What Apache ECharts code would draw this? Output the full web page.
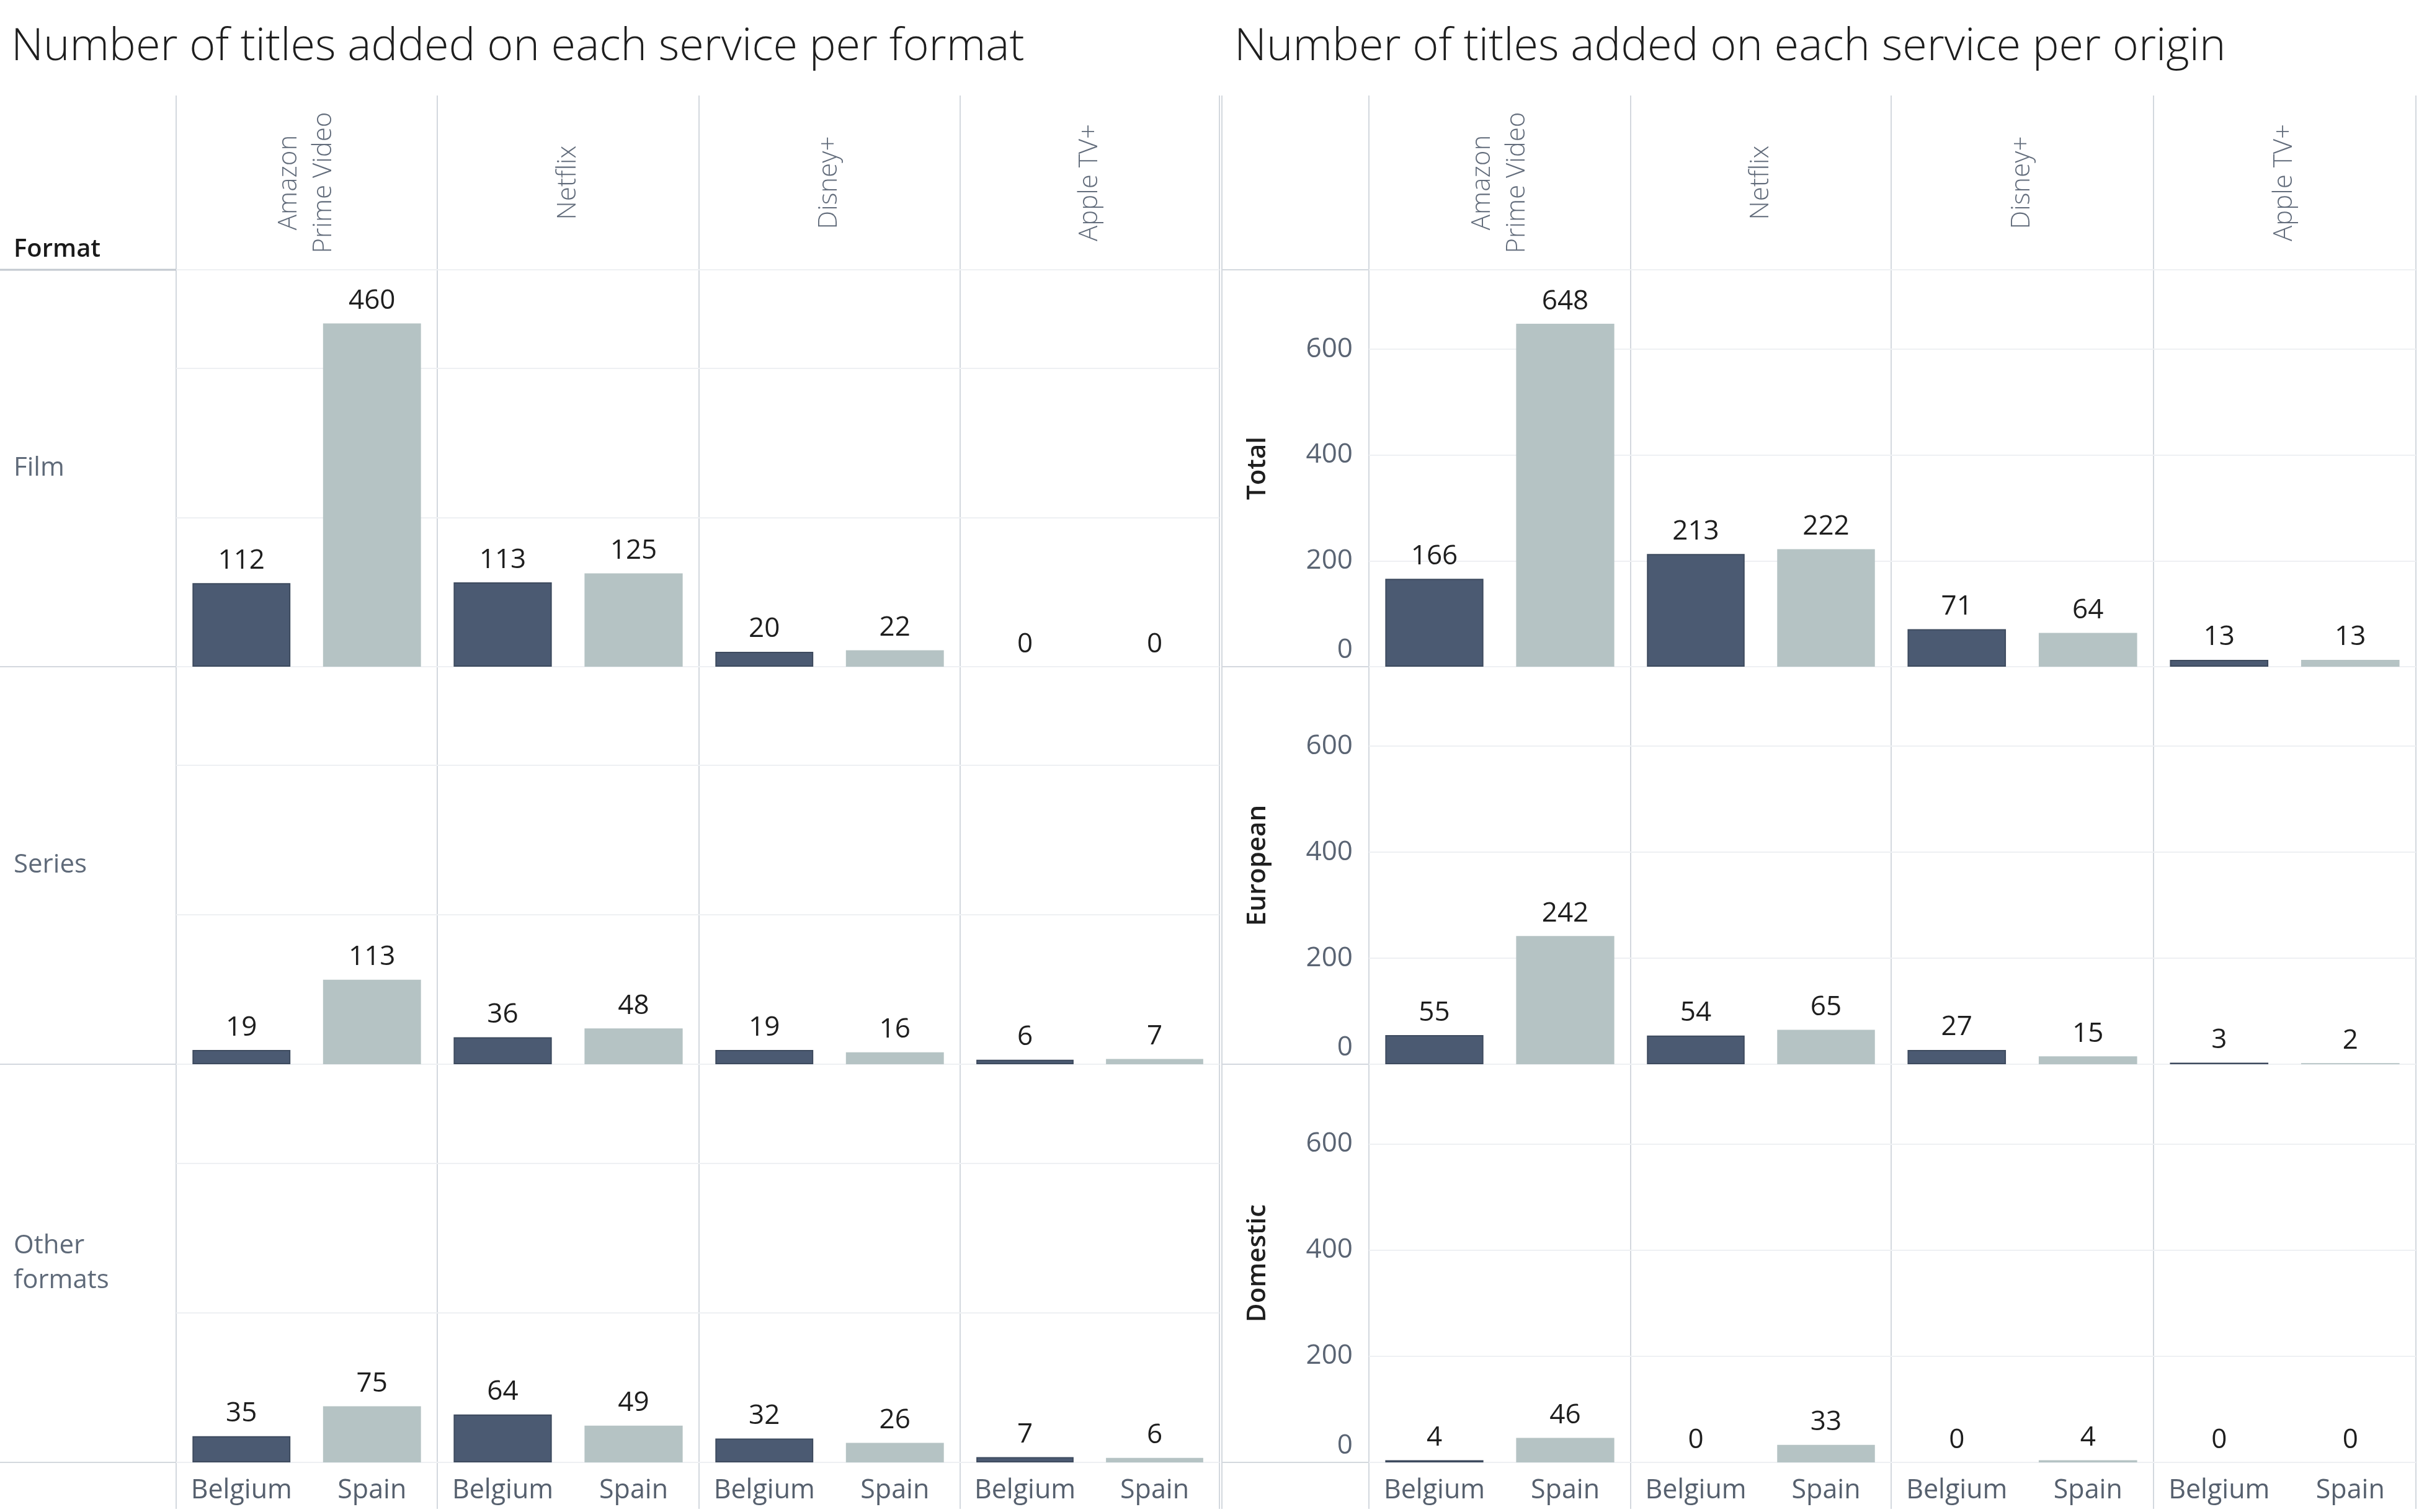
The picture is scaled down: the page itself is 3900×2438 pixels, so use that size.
<!DOCTYPE html>
<html><head><meta charset="utf-8">
<script src="https://cdn.jsdelivr.net/npm/echarts@6/dist/echarts.min.js"></script>
<style>html,body{margin:0;padding:0;background:#fff}#c{width:3900px;height:2438px}</style>
</head><body><div id="c"></div>
<script>
// ---------- DATA ----------
const countries = ['Belgium', 'Spain'];
const services = ['Amazon\nPrime Video', 'Netflix', 'Disney+', 'Apple TV+'];
const formatRows = ['Film', 'Series', 'Other\nformats'];
const originRows = ['Total', 'European', 'Domestic'];
// values per service (Amazon, Netflix, Disney+, Apple TV+)
const filmBelgium     = [112, 113, 20, 0];
const filmSpain       = [460, 125, 22, 0];
const seriesBelgium   = [19, 36, 19, 6];
const seriesSpain     = [113, 48, 16, 7];
const otherBelgium    = [35, 64, 32, 7];
const otherSpain      = [75, 49, 26, 6];
const totalBelgium    = [166, 213, 71, 13];
const totalSpain      = [648, 222, 64, 13];
const europeanBelgium = [55, 54, 27, 3];
const europeanSpain   = [242, 65, 15, 2];
const domesticBelgium = [4, 0, 0, 0];
const domesticSpain   = [46, 33, 4, 0];
const yTicksStep = 200;
const formatAxisMax = 532;
const originAxisMax = 750;

// ---------- LAYOUT ----------
const FONT = "'Open Sans', 'Noto Sans', sans-serif";
const colsL = [284, 705, 1127, 1548, 1966];
const colsR = [2207, 2629, 3049, 3472, 3895];
const rowsY = [435, 1075, 1716, 2358];
const headTop = 154, footBottom = 2433;
const DARK = '#4b5a72', LIGHT = '#b5c3c4', LINE = '#d3d8de', GRIDC = '#eef0f3';

const panels = [
  {cols: colsL, rows: formatRows, data: [[filmBelgium, filmSpain], [seriesBelgium, seriesSpain], [otherBelgium, otherSpain]], max: formatAxisMax, yLabels: false},
  {cols: colsR, rows: originRows, data: [[totalBelgium, totalSpain], [europeanBelgium, europeanSpain], [domesticBelgium, domesticSpain]], max: originAxisMax, yLabels: true}
];

const grids = [], xAxes = [], yAxes = [], series = [], graphic = [];
let idx = 0;
panels.forEach((p, pi) => {
  for (let r = 0; r < 3; r++) {
    for (let c = 0; c < 4; c++) {
      const x0 = p.cols[c], x1 = p.cols[c + 1], y0 = rowsY[r], y1 = rowsY[r + 1];
      grids.push({left: x0, top: y0, width: x1 - x0, height: y1 - y0, show: true,
        borderColor: LINE, borderWidth: 2, backgroundColor: 'transparent', containLabel: false});
      xAxes.push({type: 'category', gridIndex: idx, data: countries,
        axisLine: {show: false}, axisTick: {show: false},
        axisLabel: {show: r === 2, interval: 0, hideOverlap: false, fontSize: 43, color: '#56606e', fontFamily: FONT, margin: 24}});
      const first = c === 0;
      const yAx = {type: 'value', gridIndex: idx, min: 0, max: p.max, interval: yTicksStep,
        axisLine: {show: false}, axisTick: {show: false},
        splitLine: {show: true, lineStyle: {color: GRIDC, width: 2}},
        axisLabel: {show: p.yLabels && first, showMaxLabel: false, fontSize: 44, color: '#5a6473', fontFamily: FONT, margin: 26,
          formatter: v => v === 0 ? '{z|0}' : '{n|' + v + '}',
          rich: {z: {fontSize: 44, color: '#5a6473', fontFamily: FONT, padding: [0, 0, 54, 0]},
                 n: {fontSize: 44, color: '#5a6473', fontFamily: FONT}}}
      };
      if (first) {
        yAx.name = p.rows[r];
        yAx.nameLocation = 'middle';
        if (pi === 0) {
          yAx.nameRotate = 0;
          yAx.nameGap = 262;
          yAx.nameTextStyle = {fontSize: 42, color: '#5f6a79', fontFamily: FONT, align: 'left', lineHeight: 56};
        } else {
          yAx.nameRotate = 90;
          yAx.nameGap = 158;
          yAx.nameTextStyle = {fontSize: 42, color: '#1f1f1f', fontFamily: FONT, fontWeight: 600};
        }
      }
      yAxes.push(yAx);
      const vals = p.data[r];
      const b = vals[0][c], s = vals[1][c];
      series.push({type: 'bar', xAxisIndex: idx, yAxisIndex: idx, barWidth: '75%',
        data: [
          {value: b, itemStyle: {color: DARK, borderColor: '#3d4a5e', borderWidth: b > 0 ? 2 : 0}},
          {value: s, itemStyle: {color: LIGHT}}
        ],
        label: {show: true, position: 'top', distance: 14, fontSize: 44, color: '#1e1e1e', fontFamily: FONT},
        silent: true, animation: false});
      idx++;
    }
  }
  // column headers
  for (let c = 0; c < 4; c++) {
    graphic.push({type: 'text', x: (p.cols[c] + p.cols[c + 1]) / 2, y: (headTop + rowsY[0]) / 2, rotation: Math.PI / 2,
      style: {text: services[c], fontSize: 42, fill: '#626c7b', fontFamily: FONT, fontWeight: 300, align: 'center', verticalAlign: 'middle', lineHeight: 56}});
  }
  // header & footer vertical lines
  const vx = pi === 0 ? p.cols : [1970].concat(p.cols);
  vx.forEach(x => {
    graphic.push({type: 'line', shape: {x1: x, y1: headTop, x2: x, y2: rowsY[0]}, style: {stroke: LINE, lineWidth: 2}});
    graphic.push({type: 'line', shape: {x1: x, y1: rowsY[3], x2: x, y2: footBottom}, style: {stroke: LINE, lineWidth: 2}});
  });
  // row-label area horizontal lines
  const lx0 = pi === 0 ? 0 : 1970, lx1 = p.cols[0];
  rowsY.forEach((y, k) => {
    graphic.push({type: 'line', shape: {x1: lx0, y1: y, x2: lx1, y2: y}, style: {stroke: k === 0 && pi === 0 ? '#c2c8d0' : LINE, lineWidth: k === 0 && pi === 0 ? 3 : 2}});
  });
  if (pi === 1) {
    graphic.push({type: 'line', shape: {x1: 1970, y1: rowsY[0], x2: 1970, y2: rowsY[3]}, style: {stroke: LINE, lineWidth: 2}});
  }
});
graphic.push({type: 'text', x: 22, y: 403, style: {text: 'Format', fontSize: 40, fontWeight: 600, fill: '#1a1a1a', fontFamily: FONT, verticalAlign: 'middle'}});

const chart = echarts.init(document.getElementById('c'), null, {renderer: 'canvas'});
chart.setOption({
  backgroundColor: '#ffffff',
  animation: false,
  title: [
    {text: 'Number of titles added on each service per format', left: 18, top: 40, padding: 0,
      textStyle: {fontSize: 72, fontWeight: 300, color: '#1e1e1e', fontFamily: FONT}},
    {text: 'Number of titles added on each service per origin', left: 1990, top: 40, padding: 0,
      textStyle: {fontSize: 72, fontWeight: 300, color: '#1e1e1e', fontFamily: FONT}}
  ],
  grid: grids, xAxis: xAxes, yAxis: yAxes, series: series, graphic: graphic
});
</script></body></html>
